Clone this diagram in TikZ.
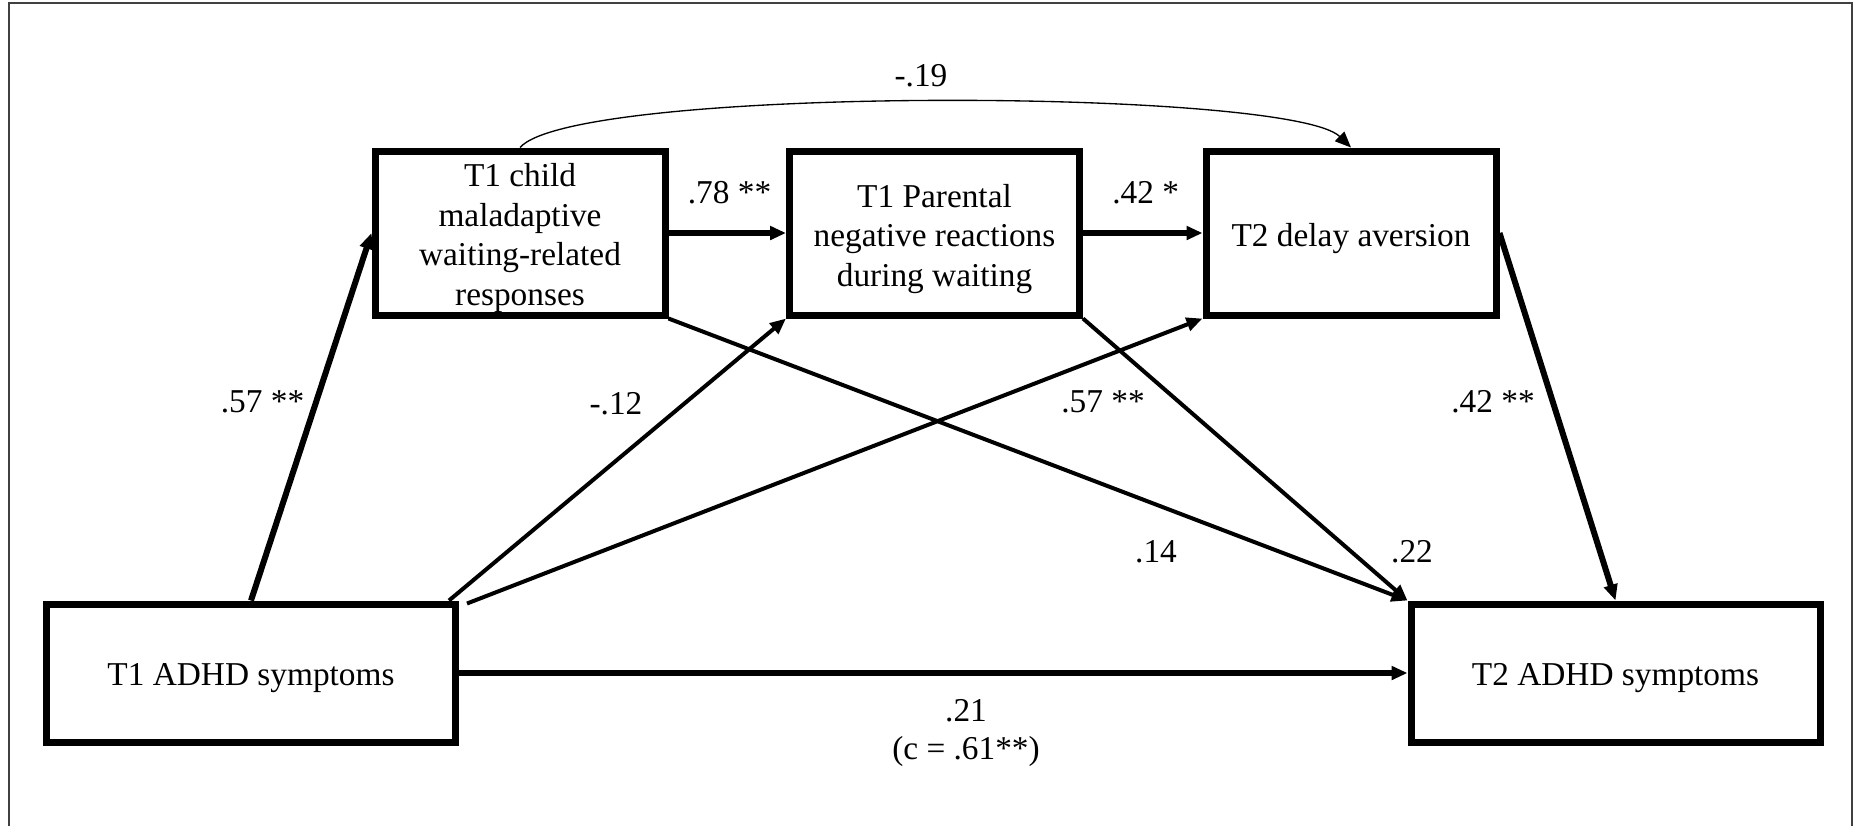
\documentclass[tikz,border=0pt]{standalone}
\usepackage{fontspec}
\setmainfont{Liberation Serif}
\usetikzlibrary{arrows.meta,calc}
\newcommand{\boxtxt}[2]{\raisebox{#1}[\height][\depth]{\begin{tabular}{@{}c@{}}#2\end{tabular}}}
\tikzset{
  box/.style={draw, line width=2.1pt, rectangle, inner sep=0pt, font=\fontsize{10}{11.95}\selectfont},
  smallbox/.style={box, minimum width=87pt, minimum height=49.2pt},
  bigbox/.style={box, minimum width=122.7pt, minimum height=41.4pt},
  tip/.style={-{Triangle[length=4.8pt,width=4pt]}},
  thickarrow/.style={tip, line width=1.8pt},
  medarrow/.style={tip, line width=1.2pt},
  thinarrow/.style={tip, line width=0.4pt},
  lbl/.style={font=\fontsize{10}{12}\selectfont, inner sep=0pt},
}
\begin{document}
\begin{tikzpicture}[x=0.3pt, y=-0.3pt]
\useasboundingbox (0,0) rectangle (1854,826);
% outer frame (no bottom edge)
\draw[line width=0.6pt, black!75] (9,826) -- (9,3) -- (1852,3) -- (1852,826);
% boxes
\node[smallbox] (A) at (520,233) {\boxtxt{-1.5pt}{T1 child\\maladaptive\\waiting-related\\responses}};
\node[smallbox] (B) at (934.5,233) {\boxtxt{-1.8pt}{T1 Parental\\negative reactions\\during waiting}};
\node[smallbox] (C) at (1351,233) {\boxtxt{-1.8pt}{T2 delay aversion}};
\node[bigbox] (D) at (251,673) {\boxtxt{-1.5pt}{T1 ADHD symptoms}};
\node[bigbox] (E) at (1615.5,673) {\boxtxt{-1.5pt}{T2 ADHD symptoms}};
% connectors
\draw[thickarrow] (D.north) -- (A.west);
\draw[thickarrow] (A.east) -- (B.west);
\draw[thickarrow] (B.east) -- (C.west);
\draw[thickarrow] (C.east) -- (E.north);
\draw[thickarrow] (D.east) -- (E.west);
\draw[medarrow] ($(D.north east)+(-10,0)$) -- (B.south west);
\draw[medarrow] ($(D.north east)+(8,3)$) -- (C.south west);
\draw[medarrow] (A.south east) -- (E.north west);
\draw[medarrow] (B.south east) -- (E.north west);
\draw[thinarrow] (A.north) .. controls (575,85) and (1290,88) .. (C.north);
% labels
\node[lbl] (l1) at (262.5,402) {.57 **};
\node[lbl] (l2) at (729.5,193) {.78 **};
\node[lbl] (l3) at (1145.7,193) {.42 *};
\node[lbl] (l4) at (921,76) {-.19};
\node[lbl] (l5) at (616,404) {-.12};
\node[lbl] (l6) at (1103,402) {.57 **};
\node[lbl] (l7) at (1493,402) {.42 **};
\node[lbl] (l8) at (1156,552) {.14};
\node[lbl] (l9) at (1412,552) {.22};
\node[lbl] (l10) at (966,711) {.21};
\node[lbl] (l11) at (966,751) {(c = .61**)};
\end{tikzpicture}
\end{document}
